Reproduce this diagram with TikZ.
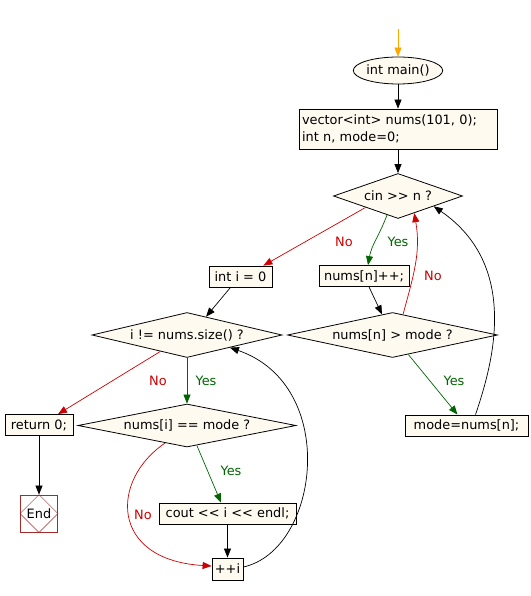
\documentclass[tikz,border=0pt]{standalone}
\usepackage{fontspec}
\setmainfont{DejaVu Sans}[Ligatures=TeXOff]
\usetikzlibrary{shapes.geometric,arrows.meta,calc}
\definecolor{fillc}{HTML}{FFFAF0}
\definecolor{nored}{HTML}{CC0000}
\definecolor{yesgreen}{HTML}{006400}
\definecolor{startor}{HTML}{FFA500}
\definecolor{endbr}{HTML}{A52A2A}
\begin{document}
\begin{tikzpicture}[x=1pt,y=-1pt,font=\fontsize{12.9}{16.5}\selectfont,
  box/.style={draw,fill=fillc,line width=0.8pt,inner sep=0pt,minimum height=21},
  dia/.style={diamond,draw,fill=fillc,line width=0.8pt,inner sep=0pt},
  edge/.style={line width=0.7pt,-{Triangle[length=9pt,width=7pt]}},
  noedge/.style={edge,nored},
  yesedge/.style={edge,yesgreen},
  nolab/.style={text=nored},
  yeslab/.style={text=yesgreen}]
\useasboundingbox (0,0) rectangle (530,596);
% nodes
\coordinate (st) at (398,29);
\node[ellipse,draw,fill=fillc,line width=0.8pt,minimum width=83,minimum height=27,inner sep=0pt] (main) at (398,70.5) {int main()};
\node[box,minimum width=198,minimum height=40,align=left,text width=192,inner xsep=3pt] (vec) at (398,129) {vector<int> nums(101, 0);\\int n, mode=0;};
\node[dia,aspect=2.87,minimum width=129,minimum height=45] (cin) at (398,196) {cin >> n ?};
\node[box,minimum width=63] (inti) at (240.5,276.5) {int i = 0};
\node[box,minimum width=90] (nums) at (364,276) {nums[n]++;};
\node[dia,aspect=4.67,minimum width=210,minimum height=45] (big) at (392.5,335) {nums[n] > mode ?};
\node[box,minimum width=123] (mode) at (466.5,425.5) {mode=nums[n];};
\node[dia,aspect=4.22,minimum width=190,minimum height=45] (loop) at (187,335) {i != nums.size() ?};
\node[box,minimum width=68] (ret) at (39,425) {return 0;};
\node[dia,aspect=5.07,minimum width=218,minimum height=43] (eq) at (187,425.5) {nums[i] == mode ?};
\node[box,minimum width=137] (cout) at (227.5,513.5) {cout << i << endl;};
\node[box,minimum width=31,minimum height=22] (inc) at (227.5,569) {++i};
\node[draw=endbr,line width=0.8pt,minimum size=37,inner sep=0pt] (end) at (39,513.5) {End};
\draw[endbr,line width=0.5pt] (end.north) -- (end.west) -- (end.south) -- (end.east) -- cycle;
% right part
\draw[edge,startor] (st) -- (main);
\draw[edge] (main) -- (vec);
\draw[edge] (vec) -- (cin);
\draw[noedge] (cin.south west) -- ([xshift=-9pt]inti.north east);
\node[nolab] (nocin) at (344,242) {No};
\draw[yesedge] ($(cin.south)!0.17!(cin.west)$) to[out=250,in=80] ([xshift=4pt]nums.north);
\node[yeslab] (yescin) at (398,242) {Yes};
\draw[noedge] ($(big.north)!0.1!(big.east)$) to[out=75,in=-80] ($(cin.south)!0.25!(cin.east)$);
\node[nolab] (nobig) at (433,276) {No};
\draw[edge] ([xshift=5pt]nums.south) -- ($(big.north)!0.1!(big.west)$);
\draw[yesedge] ($(big.south)!0.15!(big.east)$) -- ([xshift=-9pt]mode.north);
\node[yeslab] (yesbig) at (454,381) {Yes};
\draw[edge] ([xshift=9pt]mode.north) .. controls +(17,-50) and +(87,60) .. ($(cin.south)!0.55!(cin.east)$);
% left part
\draw[edge] ([xshift=-10pt]inti.south) -- ($(loop.north)!0.2!(loop.east)$);
\draw[noedge] ($(loop.south)!0.28!(loop.west)$) -- ([xshift=19pt]ret.north);
\node[nolab] (noloop) at (158,381) {No};
\draw[yesedge] (loop) -- (eq);
\node[yeslab] (yesloop) at (206,381) {Yes};
\draw[edge] (ret) -- (end);
\draw[yesedge] ($(eq.south)!0.09!(eq.east)$) -- ([xshift=-6.5pt]cout.north);
\node[yeslab] (yeseq) at (231,471) {Yes};
\draw[noedge] ($(eq.south)!0.2!(eq.west)$) .. controls +(-55,37) and +(-102,-6) .. ($(inc.west)+(0,-3)$);
\node[nolab] (noeq) at (143,515) {No};
\draw[edge] (cout) -- (inc);
\draw[edge] ($(inc.east)+(0,-2)$) .. controls +(76,-17) and +(110,38) .. ($(loop.south)!0.45!(loop.east)$);
\end{tikzpicture}
\end{document}
